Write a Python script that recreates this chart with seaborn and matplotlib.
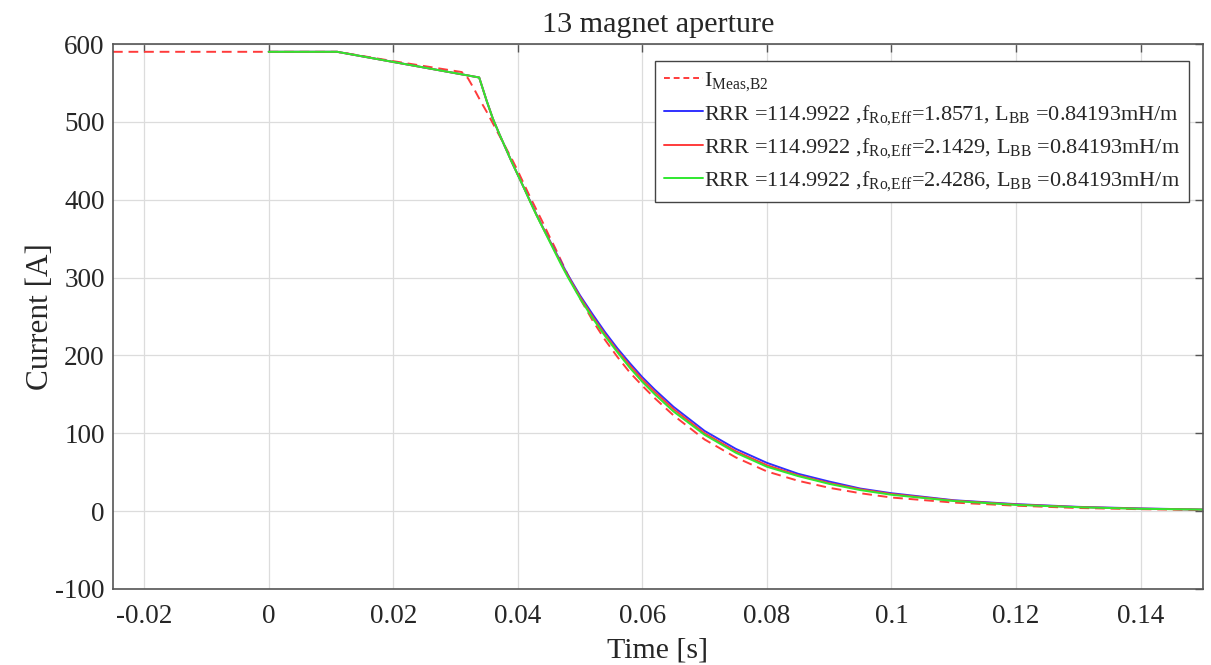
import numpy as np
import pandas as pd
import seaborn as sns
import matplotlib.pyplot as plt

# measured current (dashed red)
t_meas = [-0.025, 0.0, 0.011, 0.020, 0.031, 0.032, 0.033, 0.034, 0.035, 0.036, 0.037,
          0.038, 0.039, 0.040, 0.041, 0.042, 0.043, 0.044, 0.045, 0.046, 0.047,
          0.048, 0.050, 0.052, 0.054, 0.056, 0.058, 0.060, 0.062, 0.065, 0.070,
          0.075, 0.080, 0.085, 0.090, 0.095, 0.100, 0.110, 0.120, 0.130, 0.140, 0.150]
i_meas = [590, 590, 590, 578, 564, 556, 542, 527, 513, 498, 483,
          468, 453, 437, 420, 403, 387, 371, 354, 338, 321,
          304, 273, 245, 220, 198, 178, 161, 145, 123, 92,
          69, 51, 39, 30, 23, 17.5, 11, 7, 4, 2.5, 1.5]

# simulated curves (same time base)
t_sim = [0.0, 0.011, 0.0338, 0.035, 0.036, 0.037, 0.038, 0.039, 0.040, 0.041, 0.042,
         0.043, 0.044, 0.045, 0.046, 0.047, 0.048, 0.050, 0.052, 0.054, 0.056,
         0.058, 0.060, 0.062, 0.065, 0.070, 0.075, 0.080, 0.085, 0.090, 0.095,
         0.100, 0.110, 0.120, 0.130, 0.140, 0.150]
i_blue = [590, 590, 557, 527, 504, 485, 467, 449, 432, 415, 398,
          381, 365, 349.5, 334, 319, 304, 277, 253, 230, 209,
          190, 172, 156, 134, 103, 80, 62, 48, 38, 29,
          23, 14, 9, 5.5, 3.5, 2]
i_red = [590, 590, 557, 527, 504, 485, 467, 449, 432, 415, 397.5,
         380.5, 364.5, 349, 333, 317.5, 302.5, 275, 250, 227, 206,
         187, 169, 153, 131, 100, 77, 59, 46, 36, 28,
         22, 13.5, 8.5, 5.2, 3.2, 2]
i_green = [590, 590, 557, 527, 504, 485, 467, 449, 432, 415, 397,
           380, 364, 348, 332, 316, 301, 273, 248, 225, 204,
           184, 166, 150, 128, 98, 75, 57, 45, 35, 27,
           21, 13, 8, 5, 3, 2]

f_ro = ['1.8571', '2.1429', '2.4286']
x_ticks = [-0.02, 0, 0.02, 0.04, 0.06, 0.08, 0.1, 0.12, 0.14]
x_labels = ['-0.02', '0', '0.02', '0.04', '0.06', '0.08', '0.1', '0.12', '0.14']
y_ticks = [-100, 0, 100, 200, 300, 400, 500, 600]
y_labels = ['-100', '0', '100', '200', '300', '400', '500', '600']

sns.set_style('whitegrid')
plt.rcParams['font.family'] = ['Liberation Serif', 'DejaVu Serif']
plt.rcParams['mathtext.fontset'] = 'custom'
plt.rcParams['mathtext.rm'] = 'Liberation Serif'
plt.rcParams['mathtext.it'] = 'Liberation Serif:italic'

fig = plt.figure(figsize=(12.11, 6.65), dpi=100)
ax = fig.add_axes([0.0933, 0.1143, 0.9000, 0.8195])

meas = pd.DataFrame({'t': t_meas, 'I': i_meas})
sim = pd.DataFrame({'t': t_sim, 'blue': i_blue, 'red': i_red, 'green': i_green})

sns.lineplot(data=meas, x='t', y='I', ax=ax, color='#ff3b3b', linewidth=1.4,
             dashes=False, label=r'I$_{\mathrm{Meas{,}B2}}$')
ax.lines[-1].set_dashes((5, 3))
for col, c, f in zip(['blue', 'red', 'green'], ['#3030ff', '#ff3b3b', '#2fe82f'], f_ro):
    lab = r'RRR =114.9922 ,f$_{\mathrm{Ro{,}Eff}}$=' + f + r', L$_{\mathrm{BB}}$ =0.84193mH/m'
    sns.lineplot(data=sim, x='t', y=col, ax=ax, color=c, linewidth=1.4, label=lab)

ax.set_xlim(-0.025, 0.15)
ax.set_ylim(-100, 600)
ax.set_xticks(x_ticks)
ax.set_xticklabels(x_labels)
ax.set_yticks(y_ticks)
ax.set_yticklabels(y_labels)
ax.tick_params(axis='both', direction='in', length=6, width=1, color='#555555',
               labelsize=19.5, top=True, right=True)
ax.tick_params(axis='x', pad=11)
ax.tick_params(axis='y', pad=6)
ax.grid(True, color='#dcdcdc', linewidth=0.9)
for s in ax.spines.values():
    s.set_color('#555555')
    s.set_linewidth(1.2)

ax.set_xlabel('Time [s]', fontsize=21.5, labelpad=6)
ax.set_ylabel('Current [A]', fontsize=22.5, labelpad=0)
ax.set_title('13 magnet aperture', fontsize=21.7, pad=9)

leg = ax.legend(loc='upper right', bbox_to_anchor=(0.987, 0.968), borderaxespad=0,
                fontsize=16, handlelength=1.75, handletextpad=0.05, labelspacing=0.42,
                fancybox=False, framealpha=1, borderpad=0.4)
leg.get_frame().set_edgecolor('#444444')
leg.get_frame().set_linewidth(1.0)
leg.get_lines()[0].set_dashes((3, 2))

fig.savefig('out.png', dpi=100)
